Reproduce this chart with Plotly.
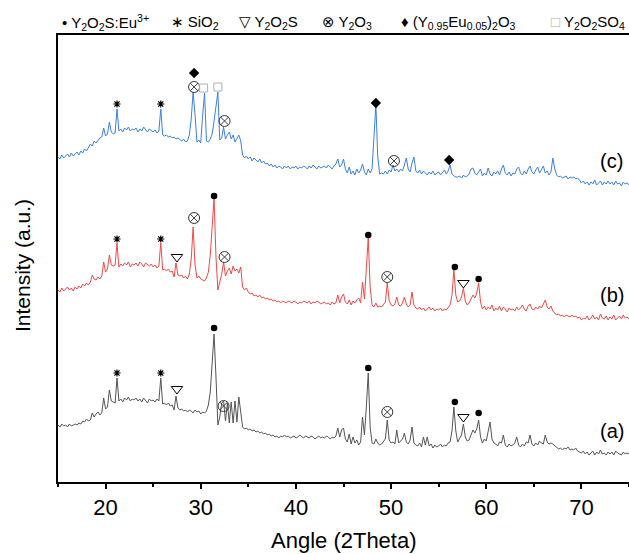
import numpy as np
import plotly.graph_objects as go

# 2-theta sampling grid (15 to 75 deg, 0.2 deg step)
angle = np.round(15 + 0.2 * np.arange(301), 1)

# intensity (a.u., offset traces)
int_c = [
    330, 328, 332, 329, 331, 333, 330, 334, 331, 333,
    335, 332, 336, 334, 338, 336, 340, 343, 341, 346,
    344, 347, 349, 350, 359, 351, 353, 365, 355, 353,
    354, 378, 356, 358, 355, 359, 357, 360, 356, 358,
    357, 359, 355, 358, 356, 360, 357, 355, 358, 356,
    355, 357, 354, 356, 378, 352, 351, 352, 350, 351,
    349, 350, 348, 349, 347, 346, 348, 345, 346, 352,
    368, 395, 372, 345, 347, 344, 372, 394, 346, 345,
    348, 353, 366, 384, 395, 347, 349, 360, 348, 352,
    355, 348, 352, 345, 349, 352, 346, 332, 329, 331,
    328, 330, 326, 329, 327, 325, 328, 324, 326, 323,
    324, 321, 323, 320, 322, 319, 321, 320, 318, 321,
    319, 321, 318, 320, 319, 321, 318, 320, 319, 321,
    320, 318, 321, 319, 322, 320, 318, 321, 319, 320,
    321, 319, 322, 320, 318, 321, 323, 328, 320, 322,
    328, 318, 314, 320, 313, 316, 312, 318, 314, 317,
    323, 315, 312, 318, 314, 318, 345, 382, 330, 313,
    314, 313, 316, 313, 317, 315, 322, 316, 318, 315,
    318, 316, 322, 329, 318, 315, 324, 330, 316, 314,
    317, 313, 316, 314, 312, 315, 313, 316, 312, 314,
    315, 312, 314, 317, 313, 316, 322, 313, 311, 310,
    310, 311, 309, 312, 310, 311, 313, 318, 319, 314,
    312, 315, 318, 311, 314, 312, 319, 313, 311, 315,
    313, 316, 312, 318, 322, 314, 312, 315, 311, 314,
    313, 318, 320, 314, 312, 316, 313, 318, 321, 315,
    313, 317, 320, 314, 318, 321, 314, 316, 312, 315,
    329, 318, 312, 310, 311, 309, 310, 311, 308, 310,
    309, 310, 308, 309, 307, 304, 306, 303, 305, 302,
    305, 303, 307, 302, 304, 306, 302, 305, 303, 306,
    303, 305, 302, 306, 303, 304, 301, 305, 303, 304,
    302,
]

int_b = [
    197, 195, 199, 196, 198, 200, 197, 199, 196, 200,
    198, 201, 199, 203, 201, 204, 202, 205, 212, 208,
    207, 210, 208, 211, 225, 215, 218, 232, 222, 221,
    222, 244, 220, 223, 221, 224, 222, 225, 220, 223,
    222, 224, 221, 225, 223, 220, 224, 222, 221, 223,
    220, 222, 219, 221, 244, 217, 218, 216, 218, 215,
    216, 210, 224, 212, 211, 212, 209, 211, 208, 213,
    228, 260, 222, 209, 211, 208, 207, 206, 209, 215,
    232, 260, 289, 230, 197, 205, 213, 225, 211, 216,
    219, 213, 221, 216, 218, 214, 220, 200, 197, 199,
    195, 193, 194, 191, 192, 190, 192, 189, 190, 188,
    189, 187, 188, 186, 187, 185, 186, 184, 186, 185,
    184, 186, 185, 184, 186, 185, 183, 185, 184, 186,
    185, 184, 186, 183, 185, 184, 186, 185, 183, 184,
    185, 183, 184, 182, 185, 183, 184, 192, 184, 190,
    193, 185, 183, 187, 182, 186, 184, 187, 189, 184,
    205, 188, 215, 249, 200, 182, 180, 184, 180, 181,
    180, 182, 185, 204, 186, 182, 181, 183, 190, 182,
    181, 184, 190, 183, 180, 182, 195, 182, 179, 178,
    180, 177, 179, 176, 178, 180, 177, 179, 176, 178,
    177, 179, 176, 178, 177, 180, 182, 192, 217, 192,
    185, 186, 190, 199, 186, 182, 184, 188, 192, 189,
    194, 204, 185, 178, 181, 177, 180, 178, 182, 176,
    179, 177, 181, 176, 180, 178, 175, 179, 177, 178,
    176, 180, 177, 179, 182, 178, 176, 181, 183, 178,
    177, 180, 178, 181, 179, 183, 187, 180, 178, 181,
    176, 174, 172, 173, 171, 172, 170, 172, 171, 170,
    172, 170, 171, 169, 170, 167, 169, 168, 171, 167,
    169, 172, 168, 170, 167, 173, 169, 168, 171, 167,
    170, 168, 172, 167, 169, 171, 168, 172, 169, 170,
    168,
]

int_a = [
    62, 60, 63, 61, 62, 60, 63, 61, 62, 63,
    62, 64, 63, 66, 65, 68, 66, 67, 74, 70,
    73, 75, 72, 74, 89, 78, 80, 97, 86, 85,
    84, 109, 86, 88, 85, 89, 87, 90, 86, 88,
    87, 89, 86, 88, 85, 89, 87, 84, 88, 86,
    87, 85, 88, 86, 109, 83, 84, 82, 84, 81,
    82, 77, 91, 79, 77, 78, 76, 77, 75, 77,
    76, 74, 77, 75, 76, 73, 75, 74, 76, 82,
    95, 125, 153, 110, 62, 70, 84, 86, 66, 84,
    64, 85, 64, 86, 65, 90, 72, 60, 58, 59,
    57, 58, 56, 57, 55, 56, 54, 55, 53, 54,
    52, 53, 51, 52, 50, 51, 49, 51, 50, 52,
    50, 51, 49, 50, 51, 49, 50, 52, 50, 49,
    51, 50, 49, 51, 50, 48, 50, 51, 49, 50,
    49, 51, 50, 48, 50, 49, 51, 59, 50, 57,
    59, 48, 45, 53, 43, 50, 44, 47, 42, 45,
    70, 52, 80, 114, 60, 44, 43, 48, 44, 42,
    43, 45, 48, 67, 47, 44, 45, 43, 57, 44,
    46, 48, 54, 45, 43, 47, 60, 44, 42, 41,
    44, 40, 50, 42, 50, 41, 43, 39, 42, 40,
    41, 43, 40, 42, 41, 44, 45, 56, 80, 56,
    45, 48, 52, 63, 50, 46, 47, 52, 57, 54,
    58, 67, 50, 44, 48, 46, 56, 65, 48, 44,
    43, 41, 45, 44, 52, 42, 40, 43, 41, 42,
    44, 50, 42, 40, 43, 41, 45, 44, 52, 43,
    41, 44, 42, 46, 44, 43, 52, 45, 43, 44,
    43, 41, 40, 38, 39, 37, 39, 38, 40, 37,
    38, 37, 39, 36, 35, 34, 36, 33, 35, 32,
    34, 36, 32, 35, 33, 37, 33, 34, 32, 35,
    33, 35, 32, 36, 34, 33, 32, 35, 33, 34,
    33,
]

# phase markers (angle, height)
dot_x = [31.4, 47.6, 56.7, 59.2, 31.4, 47.6, 56.7, 59.2]
dot_y = [291, 252, 220, 208, 159, 119, 85, 74]
sio2_x = [21.2, 25.8, 21.2, 25.8, 21.2, 25.8]
sio2_y = [383, 383, 248, 248, 114, 114]
tri_x = [27.5, 57.6, 27.5, 57.6]
tri_y = [230, 204, 98, 70]
ox_x = [29.3, 32.5, 50.3, 29.3, 32.5, 49.6, 32.4, 49.6]
ox_y = [400, 366, 326, 269, 230, 210, 81, 75]
dia_x = [29.3, 48.4, 56.1]
dia_y = [414, 384, 327]
sq_x = [30.3, 31.8]
sq_y = [399, 400]

curve_labels = ["(c)", "(b)", "(a)"]
curve_label_y = [326, 192, 56]

legend_items = [
    "\u2022 Y<sub>2</sub>O<sub>2</sub>S:Eu<sup>3+</sup>",
    "\u2217 SiO<sub>2</sub>",
    "\u25bd Y<sub>2</sub>O<sub>2</sub>S",
    "\u2297 Y<sub>2</sub>O<sub>3</sub>",
    "\u2666 (Y<sub>0.95</sub>Eu<sub>0.05</sub>)<sub>2</sub>O<sub>3</sub>",
    "<span style='color:#b0b0b0'>\u25a1</span> Y<sub>2</sub>O<sub>2</sub>SO<sub>4</sub>",
]
legend_px = [60, 169, 237, 320, 399, 549]

FONT = "Liberation Sans, Arial, DejaVu Sans, sans-serif"
W, H = 629, 554
ML, MR, MT, MB = 58, 0, 35, 72

fig = go.Figure()
for ys, col in [(int_a, "#555555"), (int_b, "#f04848"), (int_c, "#3a80e6")]:
    fig.add_trace(go.Scatter(x=angle, y=ys, mode="lines",
                             line=dict(color=col, width=1), hoverinfo="skip"))

fig.add_trace(go.Scatter(x=dot_x, y=dot_y, mode="markers",
                         marker=dict(symbol="circle", size=6.5, color="black")))
fig.add_trace(go.Scatter(x=sio2_x, y=sio2_y, mode="markers",
                         marker=dict(symbol="asterisk-open", size=6, color="black",
                                     line=dict(color="black", width=1.2))))
fig.add_trace(go.Scatter(x=tri_x, y=tri_y, mode="markers",
                         marker=dict(symbol="triangle-down-open", size=10,
                                     color="black", line=dict(color="black", width=1))))
fig.add_trace(go.Scatter(x=ox_x, y=ox_y, mode="markers",
                         marker=dict(symbol="circle-x-open", size=11,
                                     color="#3a3a3a", line=dict(color="#3a3a3a", width=1))))
fig.add_trace(go.Scatter(x=dia_x, y=dia_y, mode="markers",
                         marker=dict(symbol="diamond", size=8, color="black")))
fig.add_trace(go.Scatter(x=sq_x, y=sq_y, mode="markers",
                         marker=dict(symbol="square-open", size=8, color="#b0b0b0",
                                     line=dict(color="#b0b0b0", width=1))))

plot_w = W - ML - MR
plot_h = H - MT - MB

annotations = []
for lab, ly in zip(curve_labels, curve_label_y):
    annotations.append(dict(x=73.2, y=ly, xref="x", yref="y", text=lab,
                            showarrow=False, font=dict(size=20, color="black", family=FONT)))
for txt, px in zip(legend_items, legend_px):
    annotations.append(dict(x=(px - ML) / plot_w, y=(H - MB - 22) / plot_h,
                            xref="paper", yref="paper", text=txt, showarrow=False,
                            xanchor="left", yanchor="middle",
                            font=dict(size=15, color="black", family=FONT)))
annotations.append(dict(x=0.5, y=(H - MB - 540) / plot_h, xref="paper", yref="paper",
                        text="Angle (2Theta)", showarrow=False, yanchor="middle",
                        font=dict(size=22, color="black", family=FONT)))
annotations.append(dict(x=(22 - ML) / plot_w, y=(H - MB - 266) / plot_h,
                        xref="paper", yref="paper", text="Intensity (a.u.)",
                        showarrow=False, textangle=-90, xanchor="center", yanchor="middle",
                        font=dict(size=21, color="black", family=FONT)))

fig.update_layout(
    width=W, height=H,
    margin=dict(l=ML, r=MR, t=MT, b=MB),
    paper_bgcolor="white", plot_bgcolor="white",
    showlegend=False,
    font=dict(family=FONT, color="black"),
    annotations=annotations,
    xaxis=dict(range=[15, 75], showgrid=False, zeroline=False,
               showline=True, linecolor="black", linewidth=2, mirror=True,
               ticks="outside", tickcolor="black", ticklen=5, tickwidth=2,
               tick0=20, dtick=10, tickfont=dict(size=22, family=FONT),
               minor=dict(ticks="outside", ticklen=3, tickwidth=2, tickcolor="black", dtick=5, tick0=15)),
    yaxis=dict(range=[5, 452], showgrid=False, zeroline=False,
               showline=True, linecolor="black", linewidth=2,
               showticklabels=False, ticks=""),
)

fig.write_html("out.html",
               config={"displayModeBar": False, "staticPlot": True},
               post_script="document.body.style.margin='0';document.body.style.overflow='hidden';")
